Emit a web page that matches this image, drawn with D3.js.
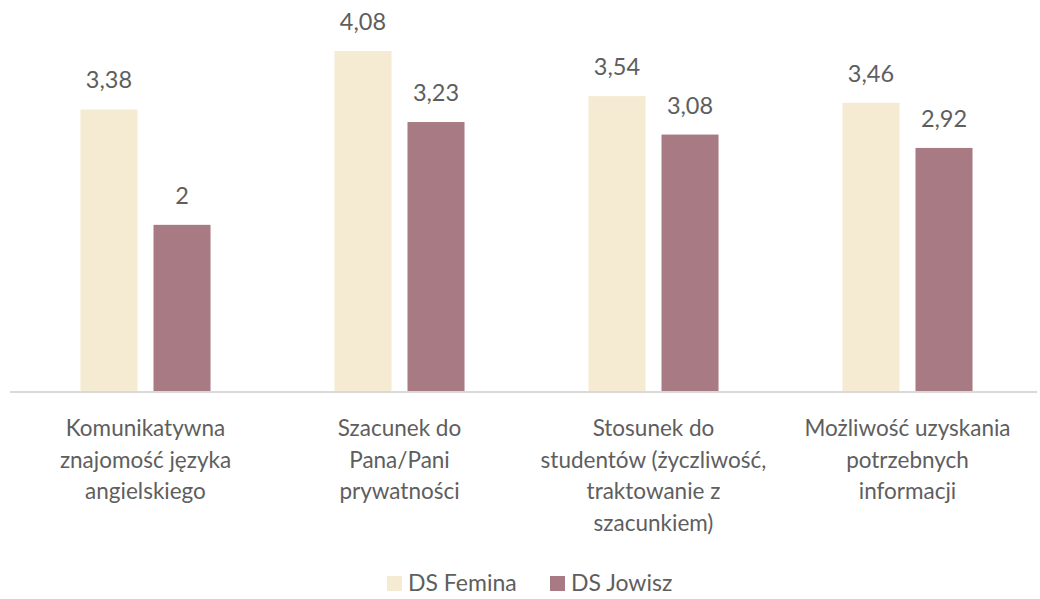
<!DOCTYPE html>
<html>
<head>
<meta charset="utf-8">
<script src="https://cdn.jsdelivr.net/npm/d3@7"></script>
<style>
  html, body { margin: 0; padding: 0; background: #fff; }
  svg { display: block; font-family: Lato, "Open Sans", sans-serif; }
</style>
</head>
<body>
<div id="chart"></div>
<script>
// ===== data =====
const categories = [
  ["Komunikatywna", "znajomość języka", "angielskiego"],
  ["Szacunek do", "Pana/Pani", "prywatności"],
  ["Stosunek do", "studentów (życzliwość,", "traktowanie z", "szacunkiem)"],
  ["Możliwość uzyskania", "potrzebnych", "informacji"]
];
const series = ["DS Femina", "DS Jowisz"];
const femina = [3.38, 4.08, 3.54, 3.46];
const jowisz = [2, 3.23, 3.08, 2.92];
const valueLabels = [["3,38", "4,08", "3,54", "3,46"], ["2", "3,23", "3,08", "2,92"]];

const colors = ["#F5EAD2", "#A87B84"];
const textColor = "#5E5E5E";

(function () {
  const W = 1040, H = 599;
  const svg = d3.select("#chart").append("svg")
    .attr("width", W).attr("height", H);

  const keys = categories.map((c, i) => "c" + i);
  const x = d3.scaleBand()
    .domain(keys)
    .range([18.5, 1034.5])
    .paddingInner(0.488)
    .paddingOuter(0.244);

  const xSub = d3.scaleBand()
    .domain(series)
    .range([0, x.bandwidth()])
    .paddingInner(0.219);

  const y = d3.scaleLinear().domain([0, 4.69]).range([392, 0]);

  const values = [femina, jowisz];
  const rows = [];
  series.forEach((s, si) => {
    values[si].forEach((v, ci) => rows.push({ s, si, ci, v, label: valueLabels[si][ci] }));
  });

  // bars
  svg.append("g").selectAll("rect")
    .data(rows)
    .join("rect")
    .attr("x", d => x(keys[d.ci]) + xSub(d.s))
    .attr("y", d => y(d.v))
    .attr("width", xSub.bandwidth())
    .attr("height", d => y(0) - y(d.v))
    .attr("fill", d => colors[d.si]);

  // value labels
  svg.append("g").selectAll("text")
    .data(rows)
    .join("text")
    .attr("x", d => x(keys[d.ci]) + xSub(d.s) + xSub.bandwidth() / 2)
    .attr("y", d => y(d.v) - 21)
    .attr("text-anchor", "middle")
    .attr("font-size", 23.5)
    .attr("fill", textColor)
    .text(d => d.label);

  // baseline
  svg.append("line")
    .attr("x1", 10).attr("x2", 1037)
    .attr("y1", y(0)).attr("y2", y(0))
    .attr("stroke", "#D9D9D9")
    .attr("stroke-width", 2);

  // category labels
  const cat = svg.append("g").selectAll("text")
    .data(categories)
    .join("text")
    .attr("x", (d, i) => x(keys[i]) + x.bandwidth() / 2)
    .attr("y", 436)
    .attr("text-anchor", "middle")
    .attr("font-size", 22.5)
    .attr("fill", textColor);
  cat.selectAll("tspan")
    .data((d, i) => d.map(t => ({ t, i })))
    .join("tspan")
    .attr("x", d => x(keys[d.i]) + x.bandwidth() / 2)
    .attr("dy", (d, j) => j === 0 ? 0 : 31.5)
    .text(d => d.t);

  // legend
  const legendX = [387, 550];
  const lg = svg.append("g").selectAll("g")
    .data(series)
    .join("g")
    .attr("transform", (d, i) => `translate(${legendX[i]},576)`);
  lg.append("rect")
    .attr("width", 15).attr("height", 15)
    .attr("fill", (d, i) => colors[i]);
  lg.append("text")
    .attr("x", 21).attr("y", 15)
    .attr("font-size", 23)
    .attr("fill", textColor)
    .text(d => d);
})();
</script>
</body>
</html>
